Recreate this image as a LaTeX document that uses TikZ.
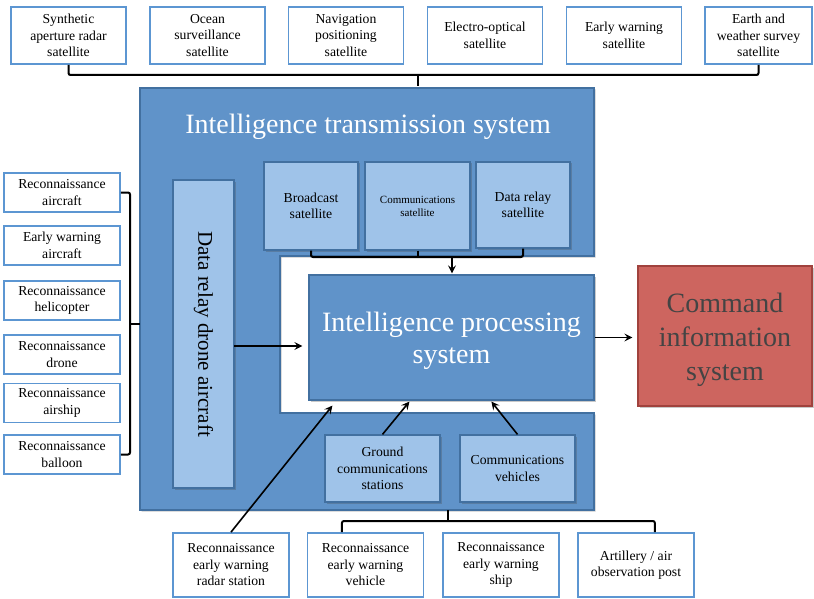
\documentclass[tikz,border=0pt]{standalone}
\usepackage{fontspec}
\setmainfont{Liberation Serif}
\usetikzlibrary{arrows.meta,shadows,calc}
\definecolor{bluefill}{RGB}{96,147,201}
\definecolor{blueline}{RGB}{66,112,160}
\definecolor{lightblue}{RGB}{159,195,233}
\definecolor{wborder}{RGB}{92,150,210}
\definecolor{redfill}{RGB}{205,101,95}
\definecolor{redline}{RGB}{160,66,61}
\definecolor{redtext}{RGB}{68,68,68}
\begin{document}
\begin{tikzpicture}[x=1pt,y=-1pt,
  sz/.style 2 args={minimum width=#1pt, minimum height=#2pt},
  shd/.style={drop shadow={shadow xshift=1.5pt, shadow yshift=-1.5pt, opacity=0.3, fill=black!70}},
  wbox/.style={draw=wborder, line width=1.8pt, fill=white, align=center, inner sep=1pt,
    font=\fontsize{13.7}{16.5}\selectfont},
  lbox/.style={draw=blueline, line width=1.2pt, fill=lightblue, align=center, inner sep=1pt,
    font=\fontsize{13.7}{16.5}\selectfont, shd},
  bigblue/.style={draw=blueline, line width=1.4pt, fill=bluefill, shd},
  brack/.style={line width=2pt, rounded corners=2pt},
  arr/.style={line width=1.6pt, -{Stealth[length=8pt,width=8pt,inset=3pt]}}]
\useasboundingbox (0,0) rectangle (814,599);

% big transmission shape
\path[bigblue] (140,88) -- (594,88) -- (594,256) -- (280,256) -- (280,413) -- (594,413) -- (594,510) -- (140,510) -- cycle;
\coordinate (transtop) at (418,88);
\coordinate (transleft) at (140,324);
\coordinate (transbot) at (448,510);
\node[text=white, font=\fontsize{28}{33}\selectfont] (title) at (368,127) {Intelligence transmission system};

% top satellites
\node[wbox, sz={115}{57}] (s1) at (68.5,35.5) {Synthetic\\aperture radar\\satellite};
\node[wbox, sz={115}{57}] (s2) at (207.5,35.5) {Ocean\\surveillance\\satellite};
\node[wbox, sz={115}{57}] (s3) at (346,35.5) {Navigation\\positioning\\satellite};
\node[wbox, sz={115}{57}] (s4) at (485,35.5) {Electro-optical\\satellite};
\node[wbox, sz={115}{57}] (s5) at (624,35.5) {Early warning\\satellite};
\node[wbox, sz={107}{57}] (s6) at (758.5,35.5) {Earth and\\weather survey\\satellite};

% left platforms
\node[wbox, sz={116}{39}] (l1) at (62,192.5) {Reconnaissance\\aircraft};
\node[wbox, sz={116}{39}] (l2) at (62,245.5) {Early warning\\aircraft};
\node[wbox, sz={116}{39}] (l3) at (62,300.5) {Reconnaissance\\helicopter};
\node[wbox, sz={116}{39}] (l4) at (62,354.5) {Reconnaissance\\drone};
\node[wbox, sz={116}{39}] (l5) at (62,403) {Reconnaissance\\airship};
\node[wbox, sz={116}{39}] (l6) at (62,454.5) {Reconnaissance\\balloon};

% bottom platforms
\node[wbox, sz={116}{64}] (v1) at (231,565) {Reconnaissance\\early warning\\radar station};
\node[wbox, sz={116}{64}] (v2) at (365.5,565) {Reconnaissance\\early warning\\vehicle};
\node[wbox, sz={116}{64}] (v3) at (501,565) {Reconnaissance\\early warning\\ship};
\node[wbox, sz={116}{64}] (v4) at (636,565) {Artillery / air\\observation post};

% inner boxes
\node[lbox, sz={61}{308}] (drone) at (203.5,334) {};
\node[rotate=-90, font=\fontsize{21}{24}\selectfont] (dronetxt) at (drone.center) {Data relay drone aircraft};
\node[lbox, sz={94}{88}] (b1) at (311,206) {Broadcast\\satellite};
\node[lbox, sz={105}{88}, font=\fontsize{11}{13}\selectfont] (b2) at (417.5,206) {Communications\\satellite};
\node[lbox, sz={94}{86}] (b3) at (523,205) {Data relay\\satellite};
\node[lbox, sz={115}{67}] (g1) at (382.5,468.5) {Ground\\communications\\stations};
\node[lbox, sz={115}{67}] (g2) at (517.5,468.5) {Communications\\vehicles};

% processing and command
\node[draw=blueline, line width=1.2pt, fill=bluefill, shd, sz={285}{125}] (proc) at (451.5,337.5) {};
\node[align=center, text=white, font=\fontsize{28}{32}\selectfont] (proctxt) at (451.5,340.5) {Intelligence processing\\system};
\node[draw=redline, line width=1.2pt, fill=redfill, shd, sz={174}{140}] (cmd) at (725,336) {};
\node[align=center, text=redtext, font=\fontsize{28}{34}\selectfont] (cmdtxt) at (725,340) {Command\\information\\system};

% top bracket
\coordinate (tj) at (418,75);
\draw[brack] (s1.south) |- (tj) -| (s6.south);
\draw[brack, shorten >=2pt] (tj) -- (transtop);

% left bracket
\coordinate (lj) at (130,324);
\draw[brack] (l1.east) -| (lj) |- (l6.east);
\draw[brack] (lj) -- (transleft);

% satellite bracket
\coordinate (sj) at (452,257);
\draw[brack] (b1.south) |- (sj) -| (b3.south);
\draw[brack] (b2.south) -- (b2.south |- sj);
\draw[arr, shorten >=1pt] (sj) -- (sj |- proc.north);

% bottom bracket
\coordinate (bj) at (448,521);
\coordinate (bv) at ($(v2.north west)!0.3!(v2.north east)$);
\coordinate (ba) at ($(v4.north west)!0.66!(v4.north east)$);
\draw[brack] (bv) |- (bj) -| (ba);
\draw[brack] (bj) -- (transbot);

% arrows
\coordinate (dr) at (234,346);
\draw[arr, shorten >=6pt] (dr) -- (dr -| proc.west);
\draw[arr, shorten >=5pt] (proc.east) -- (proc.east -| cmd.west);
\coordinate (radtip) at ($(proc.south west)+(24,5)$);
\draw[arr] (v1.north) -- (radtip);
\coordinate (gtip) at ($(proc.south west)+(101,1)$);
\draw[arr] (g1.north) -- (gtip);
\coordinate (vtip) at ($(proc.south west)+(183,1)$);
\draw[arr] (g2.north) -- (vtip);
\end{tikzpicture}
\end{document}
